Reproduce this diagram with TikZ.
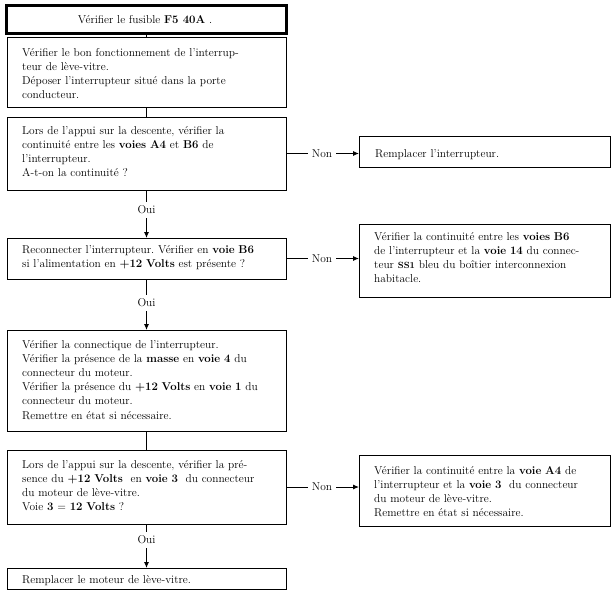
\documentclass[tikz,border=0pt]{standalone}
\usetikzlibrary{arrows.meta}
\frenchspacing
\begin{document}
\begin{tikzpicture}[x=1pt,y=-1pt,
  box/.style={draw, line width=0.9pt, inner sep=0pt, outer sep=0pt},
  lbox/.style={box, minimum width=279pt},
  rbox/.style={box, minimum width=251pt},
  txt/.style={inner sep=0pt, align=left, anchor=base west, text width=262pt, font=\fontsize{11.4}{14.2}\selectfont},
  rtxt/.style={txt, text width=234pt},
  lbl/.style={inner sep=4pt, font=\fontsize{11.4}{12}\selectfont},
  arr/.style={-{Latex[length=6pt,width=5pt]}, line width=0.9pt},
  conn/.style={line width=0.9pt}]
\useasboundingbox (0,0) rectangle (614,606);
% left boxes
\node[box, line width=3pt, minimum width=280pt, minimum height=28pt] (b1) at (146,19) {};
\node[lbox, minimum height=70pt] (b2) at (146.5,72) {};
\node[lbox, minimum height=73pt] (b3) at (146.5,153.5) {};
\node[lbox, minimum height=41pt] (b4) at (146.5,258.5) {};
\node[lbox, minimum height=101pt] (b5) at (146.5,380.5) {};
\node[lbox, minimum height=74pt] (b6) at (146.5,487) {};
\node[lbox, minimum height=21pt] (b7) at (146.5,578.5) {};
% right boxes
\node[rbox, minimum height=31pt] (r1) at (484.5,151.5) {};
\node[rbox, minimum height=73pt] (r2) at (484.5,260.5) {};
\node[rbox, minimum height=71pt] (r3) at (484.5,490.5) {};
% texts
\node[inner sep=0pt, anchor=base, font=\fontsize{11.4}{14.2}\selectfont] (t1) at (145,23) {Vérifier le fusible \textbf{F5 40A} .};
\node[txt] (t2) at (22,56) {Vérifier le bon fonctionnement de l'interrup-\\teur de lève-vitre.\\Déposer l'interrupteur situé dans la porte\\conducteur.};
\node[txt] (t3) at (22,134) {Lors de l'appui sur la descente, vérifier la\\continuité entre les \textbf{voies A4} et \textbf{B6} de\\l'interrupteur.\\A-t-on la continuité ?};
\node[txt] (t4) at (22,253) {Reconnecter l'interrupteur. Vérifier en \textbf{voie B6}\\si l'alimentation en \textbf{+12 Volts} est présente ?};
\node[txt] (t5) at (22,348) {Vérifier la connectique de l'interrupteur.\\Vérifier la présence de la \textbf{masse} en \textbf{voie 4} du\\connecteur du moteur.\\Vérifier la présence du \textbf{+12 Volts} en \textbf{voie 1} du\\connecteur du moteur.\\Remettre en état si nécessaire.};
\node[txt] (t6) at (22,468) {Lors de l'appui sur la descente, vérifier la pré-\\sence du \textbf{+12 Volts}\ \ en \textbf{voie 3}\ \ du connecteur\\du moteur de lève-vitre.\\Voie \textbf{3} = \textbf{12 Volts} ?};
\node[txt] (t7) at (22,583) {Remplacer le moteur de lève-vitre.};
\node[rtxt] (u1) at (375,157) {Remplacer l'interrupteur.};
\node[rtxt] (u2) at (374,240) {Vérifier la continuité entre les \textbf{voies B6}\\de l'interrupteur et la \textbf{voie 14} du connec-\\teur \textbf{\small SS1} bleu du boîtier interconnexion\\habitacle.};
\node[rtxt] (u3) at (374,474) {Vérifier la continuité entre la \textbf{voie A4} de\\l'interrupteur et la \textbf{voie 3}\ \ du connecteur\\du moteur de lève-vitre.\\Remettre en état si nécessaire.};
% labels
\node[lbl] (oui1) at (146.5,210) {Oui};
\node[lbl] (oui2) at (146.5,303) {Oui};
\node[lbl] (oui3) at (146.5,540) {Oui};
\node[lbl] (non1) at (322,153.5) {Non};
\node[lbl] (non2) at (322,258.5) {Non};
\node[lbl] (non3) at (322,487) {Non};
% connectors
\draw[conn] (b1.south) -- (b1.south |- b2.north);
\draw[conn] (b2.south) -- (b3.north);
\draw[conn] (b3.south) -- (oui1.north);
\draw[arr] (oui1.south) -- (b4.north);
\draw[conn] (b4.south) -- (oui2.north);
\draw[arr] (oui2.south) -- (b5.north);
\draw[conn] (b5.south) -- (b6.north);
\draw[conn] (b6.south) -- (oui3.north);
\draw[arr] (oui3.south) -- (b7.north);
\draw[conn] (b3.east) -- (non1.west);
\draw[arr] (non1.east) -- (non1.east -| r1.west);
\draw[conn] (b4.east) -- (non2.west);
\draw[arr] (non2.east) -- (non2.east -| r2.west);
\draw[conn] (b6.east) -- (non3.west);
\draw[arr] (non3.east) -- (non3.east -| r3.west);
\end{tikzpicture}
\end{document}
